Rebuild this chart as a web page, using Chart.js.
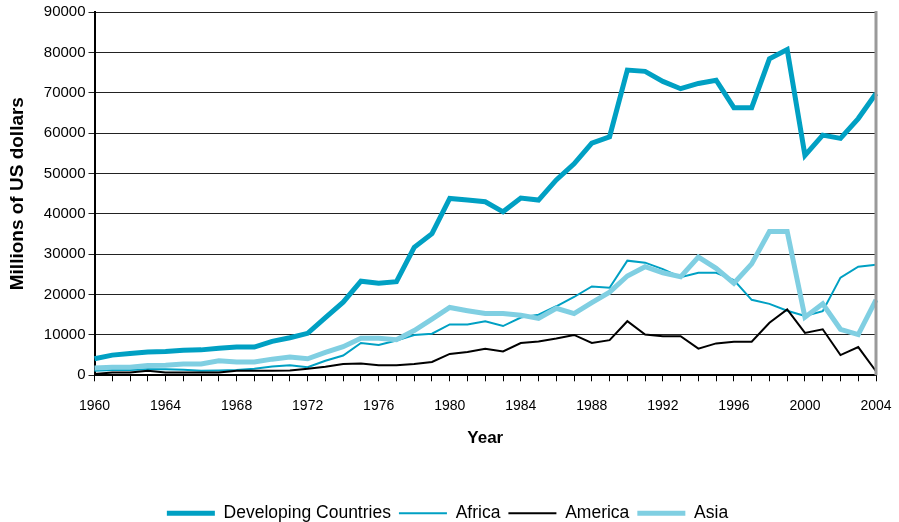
<!DOCTYPE html>
<html>
<head>
<meta charset="utf-8">
<script src="https://cdn.jsdelivr.net/npm/chart.js@4/dist/chart.umd.min.js"></script>
<style>
  html, body { margin: 0; padding: 0; background: #fff; }
  #wrap { width: 899px; height: 522px; }
</style>
</head>
<body>
<div id="wrap"><canvas id="chart" width="899" height="522"></canvas></div>
<script>
const years = [];
for (let y = 1960; y <= 2004; y++) years.push(String(y));

const developing = [4100, 5000, 5400, 5800, 5900, 6200, 6300, 6700, 7000, 7000,
    8400, 9300, 10400, 14300, 18100, 23300, 22800, 23200, 31700, 35100,
    43800, 43400, 43000, 40500, 43900, 43400, 48400, 52400, 57500, 59100,
    75600, 75300, 72800, 71000, 72300, 73100, 66300, 66300, 78400, 80700,
    54500, 59500, 58700, 63600, 69800];
const africa = [1100, 1300, 1300, 1500, 1500, 1400, 1100, 1200, 1300, 1600,
    2200, 2500, 2000, 3600, 4900, 8000, 7500, 8600, 10000, 10300,
    12600, 12600, 13400, 12200, 14300, 15000, 17100, 19400, 22000, 21700,
    28400, 27900, 26300, 24300, 25400, 25400, 23600, 18700, 17700, 16000,
    14700, 15900, 24200, 26900, 27400];
const america = [300, 700, 700, 1100, 700, 700, 700, 700, 1100, 1100,
    1100, 1200, 1600, 2100, 2800, 2900, 2500, 2500, 2800, 3300,
    5300, 5800, 6600, 5900, 8000, 8400, 9100, 10000, 8000, 8700,
    13400, 10100, 9700, 9700, 6600, 7900, 8300, 8300, 13000, 16300,
    10500, 11400, 5000, 7000, 1000];
const asia = [1800, 2000, 2000, 2400, 2500, 2800, 2800, 3600, 3300, 3300,
    4000, 4500, 4100, 5700, 7100, 9200, 9200, 8800, 11100, 13900,
    16800, 16000, 15300, 15300, 14900, 14100, 16600, 15300, 18000, 20600,
    24600, 26900, 25400, 24400, 29300, 26500, 22800, 27600, 35600, 35600,
    14400, 17700, 11400, 10100, 18700];

const FONT = '"Liberation Sans", Arial, sans-serif';

// grey frame on the right side of the plot
const rightEdge = {
    id: 'rightEdge',
    afterDraw(chart) {
        const a = chart.chartArea, ctx = chart.ctx;
        ctx.save();
        ctx.strokeStyle = '#9a9a9a';
        ctx.lineWidth = 3;
        ctx.beginPath();
        ctx.moveTo(a.right, a.top - 1);
        ctx.lineTo(a.right, a.bottom);
        ctx.stroke();
        ctx.restore();
    }
};

function series(label, data, color, width, order) {
    return {
        label, data, order,
        borderColor: color,
        backgroundColor: color,
        borderWidth: width,
        pointRadius: 0,
        tension: 0,
        fill: false
    };
}

new Chart(document.getElementById('chart'), {
    type: 'line',
    data: {
        labels: years,
        datasets: [
            series('Developing Countries', developing, '#00a0c3', 5, 3),
            series('Africa', africa, '#00a0c3', 2, 2),
            series('America', america, '#000000', 2, 1),
            series('Asia', asia, '#80cfe2', 5, 0)
        ]
    },
    plugins: [rightEdge],
    options: {
        responsive: false,
        animation: false,
        layout: { padding: { left: 4, right: 8, top: 5, bottom: -10 } },
        plugins: {
            tooltip: { enabled: false },
            legend: {
                position: 'bottom',
                labels: {
                    usePointStyle: true,
                    pointStyle: 'line',
                    pointStyleWidth: 48,
                    boxWidth: 48,
                    padding: 8,
                    color: '#000',
                    font: { family: FONT, size: 17.5 },
                    sort: (a, b) => a.datasetIndex - b.datasetIndex
                }
            }
        },
        scales: {
            x: {
                offset: false,
                afterFit: s => { s.paddingRight = 23; },
                grid: { drawOnChartArea: false, drawTicks: true, tickLength: 6, color: '#000' },
                border: { color: '#000', width: 2 },
                ticks: {
                    autoSkip: false,
                    maxRotation: 0,
                    padding: 16,
                    color: '#000',
                    font: { family: FONT, size: 14 },
                    callback: (v, i) => (i % 4 === 0 ? years[i] : '')
                },
                title: {
                    display: true,
                    text: 'Year',
                    color: '#000',
                    font: { family: FONT, size: 17, weight: 'bold' },
                    padding: { top: -2, bottom: 48 }
                }
            },
            y: {
                min: 0,
                max: 90000,
                grid: { color: '#222', lineWidth: 1, tickLength: 6 },
                border: { color: '#000', width: 2 },
                ticks: {
                    stepSize: 10000,
                    padding: 3,
                    color: '#000',
                    font: { family: FONT, size: 15 },
                    callback: v => String(v)
                },
                title: {
                    display: true,
                    text: 'Millions of US dollars',
                    color: '#000',
                    font: { family: FONT, size: 19, weight: 'bold' },
                    padding: { top: 2, bottom: 12 }
                }
            }
        }
    }
});
</script>
</body>
</html>
